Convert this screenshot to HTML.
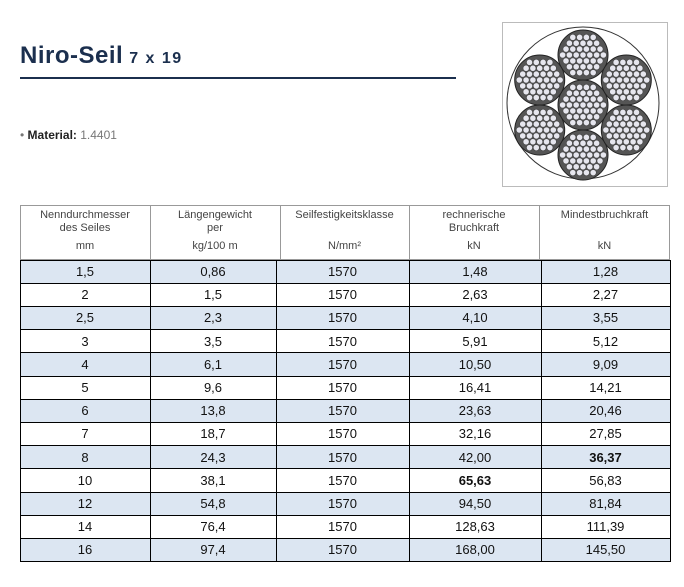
<!DOCTYPE html>
<html><head><meta charset="utf-8"><style>
body{margin:0;width:684px;height:587px;background:#fff;position:relative;font-family:"Liberation Sans",sans-serif;overflow:hidden}
.a{position:absolute}
#t{left:20px;top:41px;font-size:24px;font-weight:bold;color:#1b2f4e;letter-spacing:0.5px;white-space:nowrap;line-height:30px}
#t span{font-size:16px;font-weight:bold;letter-spacing:1.5px;margin-left:6px}
#ln{left:20px;top:77px;width:436px;height:2px;background:#1b2f4e}
#m{left:20px;top:128px;font-size:12px;color:#777}
#m b{color:#222}
.c{position:absolute;text-align:center;font-size:13px;color:#111;line-height:23px}
.h{position:absolute;text-align:center;font-size:11px;color:#444;line-height:13px}
</style></head><body>
<div class="a" id="t">Niro-Seil<span>7 x 19</span></div>
<div class="a" id="ln"></div>
<div class="a" id="m">• <b>Material:</b> 1.4401</div>
<svg class="a" style="left:502px;top:22px" width="166" height="165" viewBox="0 0 166 165">
<rect x="0.5" y="0.5" width="165" height="164" fill="#fff" stroke="#bbb"/>
<circle cx="81" cy="81" r="76" fill="none" stroke="#333" stroke-width="1"/>
<g id="w"></g>
</svg>
<div id="tb"></div>
<script>
var g=document.getElementById('w'),s='';
var sc=[[81,83]];for(var i=0;i<6;i++){var a=Math.PI/2+i*Math.PI/3;sc.push([81+50*Math.cos(a),83-50*Math.sin(a)]);}
var pts=[],d=6.8;
for(var i=-4;i<=4;i++)for(var k=-4;k<=4;k++){var x=(i+k/2)*d,y=k*d*0.866;if(Math.sqrt(x*x+y*y)<21.5)pts.push([x,y]);}
sc.forEach(function(p){s+='<circle cx="'+p[0]+'" cy="'+p[1]+'" r="25" fill="#555" stroke="#222" stroke-width="1"/>';
pts.forEach(function(q){s+='<circle cx="'+(p[0]+q[0])+'" cy="'+(p[1]+q[1])+'" r="3.1" fill="#e6e6ee" stroke="#444" stroke-width="0.6"/>';});});
g.innerHTML=s;
var rows=[["1,5","0,86","1570","1,48","1,28"],["2","1,5","1570","2,63","2,27"],["2,5","2,3","1570","4,10","3,55"],["3","3,5","1570","5,91","5,12"],["4","6,1","1570","10,50","9,09"],["5","9,6","1570","16,41","14,21"],["6","13,8","1570","23,63","20,46"],["7","18,7","1570","32,16","27,85"],["8","24,3","1570","42,00","<b>36,37</b>"],["10","38,1","1570","<b>65,63</b>","56,83"],["12","54,8","1570","94,50","81,84"],["14","76,4","1570","128,63","111,39"],["16","97,4","1570","168,00","145,50"]];
var hx=[20,150,280,409,539,670],bx=[20,150,276,409,541,670];
var h='<div class="a" style="left:20px;top:205px;width:650px;height:55px;border:1px solid #999;box-sizing:border-box"></div>';
var hd=[["Nenndurchmesser<br>des Seiles","mm"],["Längengewicht<br>per","kg/100 m"],["Seilfestigkeitsklasse","N/mm²"],["rechnerische<br>Bruchkraft","kN"],["Mindestbruchkraft","kN"]];
for(var j=0;j<5;j++){if(j>0)h+='<div class="a" style="left:'+hx[j]+'px;top:205px;width:1px;height:55px;background:#999"></div>';
h+='<div class="h" style="left:'+hx[j]+'px;top:209px;width:'+(hx[j+1]-hx[j])+'px">'+hd[j][0]+'</div>';
h+='<div class="h" style="left:'+hx[j]+'px;top:240px;width:'+(hx[j+1]-hx[j])+'px">'+hd[j][1]+'</div>';}
var y0=260,rh=23.2;
for(var r=0;r<13;r++){var y=y0+r*rh;
h+='<div class="a" style="left:20px;top:'+y+'px;width:650px;height:'+rh+'px;background:'+(r%2?'#fff':'#dce6f2')+'"></div>';
for(var j=0;j<5;j++)h+='<div class="c" style="left:'+bx[j]+'px;top:'+y+'px;width:'+(bx[j+1]-bx[j])+'px">'+rows[r][j]+'</div>';}
for(var r=0;r<=13;r++)h+='<div class="a" style="left:20px;top:'+(y0+r*rh-0.5)+'px;width:651px;height:1.2px;background:#000"></div>';
for(var j=0;j<6;j++)h+='<div class="a" style="left:'+bx[j]+'px;top:'+y0+'px;width:1.2px;height:'+(13*rh)+'px;background:#000"></div>';
document.getElementById('tb').innerHTML=h;
</script>
</body></html>
